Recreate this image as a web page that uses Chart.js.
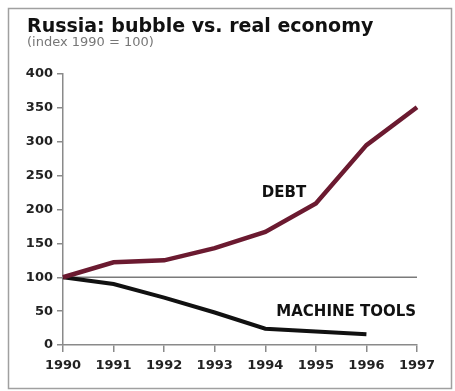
<!DOCTYPE html>
<html>
<head>
<meta charset="utf-8">
<script src="https://cdn.jsdelivr.net/npm/chart.js@4/dist/chart.umd.min.js"></script>
<style>
  html, body { margin: 0; padding: 0; background: #fff; }
  #wrap { width: 455px; height: 391px; position: relative; }
</style>
</head>
<body>
<div id="wrap"><canvas id="chart"></canvas></div>
<script>
const years = ['1990', '1991', '1992', '1993', '1994', '1995', '1996', '1997'];
const debt = [100, 122, 125, 143, 167, 209, 295, 351];
const machineTools = [100, 90, 70, 48, 24, 20, 16, null];
const yTicks = [0, 50, 100, 150, 200, 250, 300, 350, 400];
const baseline = 100;

const axisGrey = '#8a8a8a';
const tickFont = { family: 'DejaVu Sans', weight: 'bold', size: 13 };

// frame, title, the 100 line and the series labels
const decor = {
  id: 'decor',
  beforeDatasetsDraw(chart) {
    const { ctx, scales } = chart;
    const y = scales.y.getPixelForValue(baseline);
    ctx.save();
    ctx.strokeStyle = '#7a7a7a';
    ctx.lineWidth = 1.5;
    ctx.beginPath();
    ctx.moveTo(chart.chartArea.left, y);
    ctx.lineTo(chart.chartArea.right, y);
    ctx.stroke();
    ctx.restore();
  },
  afterDraw(chart) {
    const { ctx, scales } = chart;
    ctx.save();
    ctx.strokeStyle = '#a0a0a0';
    ctx.lineWidth = 1.5;
    ctx.strokeRect(8.5, 8.5, 443, 380);

    ctx.fillStyle = '#111';
    ctx.textBaseline = 'alphabetic';
    ctx.font = 'bold 19px "DejaVu Sans"';
    ctx.fillText('Russia: bubble vs. real economy', 27, 32);
    ctx.fillStyle = '#777';
    ctx.font = '13px "DejaVu Sans"';
    ctx.fillText('(index 1990 = 100)', 27, 46);

    ctx.fillStyle = '#111';
    ctx.font = 'bold 15px "DejaVu Sans"';
    ctx.textAlign = 'center';
    ctx.textBaseline = 'middle';
    ctx.fillText('DEBT', scales.x.getPixelForValue(4.37), scales.y.getPixelForValue(224));
    ctx.fillText('MACHINE TOOLS', scales.x.getPixelForValue(5.6), scales.y.getPixelForValue(49));
    ctx.restore();
  }
};

new Chart(document.getElementById('chart'), {
  type: 'line',
  data: {
    labels: years,
    datasets: [{
      label: 'Debt',
      data: debt,
      borderColor: '#6b1a30',
      borderWidth: 4.5,
      pointRadius: 0,
      tension: 0
    }, {
      label: 'Machine tools',
      data: machineTools,
      borderColor: '#111',
      borderWidth: 4,
      pointRadius: 0,
      tension: 0
    }]
  },
  options: {
    responsive: true,
    maintainAspectRatio: false,
    animation: false,
    layout: { padding: { top: 74, right: 38, bottom: 0, left: 0 } },
    plugins: { legend: { display: false }, tooltip: { enabled: false } },
    scales: {
      x: {
        offset: false,
        afterFit(scale) { scale.height = 46; },
        grid: { drawOnChartArea: false, offset: false, tickLength: 7, color: axisGrey, lineWidth: 1.5 },
        border: { color: axisGrey, width: 1.5 },
        ticks: { color: '#222', font: tickFont, padding: 6, maxRotation: 0, autoSkip: false }
      },
      y: {
        min: 0,
        max: 400,
        afterFit(scale) { scale.width = 63; },
        afterBuildTicks(scale) { scale.ticks = yTicks.map(v => ({ value: v })); },
        grid: { drawOnChartArea: false, tickLength: 6, color: axisGrey, lineWidth: 1.5 },
        border: { color: axisGrey, width: 1.5 },
        ticks: { color: '#222', font: tickFont, padding: 4 }
      }
    }
  },
  plugins: [decor]
});
</script>
</body>
</html>
